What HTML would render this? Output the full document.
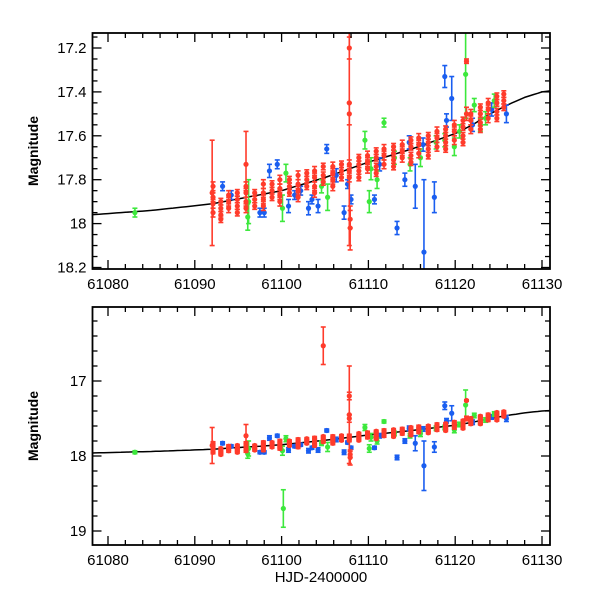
<!DOCTYPE html>
<html><head><meta charset="utf-8"><style>
body{margin:0;background:#fff}
text{font-family:"Liberation Sans",sans-serif;fill:#000}
</style></head><body>
<svg id="c" width="600" height="600" xmlns="http://www.w3.org/2000/svg"></svg>
<script>
// curve knots (model)
const curveT=[61076,61078,61085,61092,61096,61100,61105,61110,61115,61120,61122,61124,61126,61128,61130,61133];
const curveM=[17.965,17.96,17.94,17.91,17.88,17.85,17.79,17.72,17.66,17.59,17.55,17.50,17.46,17.425,17.40,17.385];
// red nights: time, mags, error
const redT=[61092.1,61093.0,61093.9,61094.9,61095.9,61096.9,61097.9,61098.9,61099.8,61100.9,61101.9,61102.9,61103.8,61104.8,61105.9,61106.9,61107.8,61108.9,61109.9,61110.9,61111.8,61112.9,61113.9,61114.9,61115.8,61116.9,61117.9,61118.9,61119.9,61120.9,61121.8,61122.9,61123.8,61124.8,61125.6];
const redM=[[17.83,17.88,17.91,17.95],[17.90,17.93,17.96,17.98],[17.87,17.90,17.93],[17.86,17.89,17.92,17.95],[17.83,17.86,17.90,17.93],[17.86,17.89,17.92],[17.82,17.86,17.89,17.92],[17.82,17.85,17.88],[17.80,17.84,17.87,17.90],[17.80,17.83,17.86],[17.78,17.82,17.85,17.88],[17.77,17.80,17.83],[17.76,17.79,17.83,17.86],[17.74,17.78,17.81],[17.74,17.77,17.80,17.83],[17.73,17.76,17.79],[17.73,17.76,17.79],[17.70,17.73,17.76,17.79],[17.69,17.72,17.75],[17.67,17.70,17.74,17.77],[17.66,17.69,17.73],[17.65,17.68,17.71,17.74],[17.64,17.67,17.70],[17.62,17.65,17.69,17.72],[17.61,17.64,17.68],[17.60,17.63,17.66,17.69],[17.58,17.61,17.65],[17.57,17.60,17.63,17.66],[17.55,17.58,17.62],[17.53,17.56,17.60,17.63],[17.50,17.53,17.57],[17.47,17.50,17.54,17.57],[17.45,17.48,17.52],[17.42,17.45,17.49,17.52],[17.41,17.44,17.47]];
const redE=[0.02,0.015,0.02,0.015,0.02,0.015,0.02,0.015,0.02,0.015,0.02,0.015,0.02,0.015,0.02,0.015,0.02,0.015,0.02,0.015,0.02,0.015,0.02,0.015,0.02,0.015,0.02,0.015,0.02,0.015,0.02,0.015,0.02,0.015,0.015];
// red singles (outliers)
const redXT=[61092.0,61095.9,61104.8,61107.8,61107.8,61107.8,61107.9,61107.9,61121.3,61121.3];
const redXM=[17.86,17.73,16.53,17.45,17.50,17.20,17.98,18.02,17.26,17.50];
const redXE=[0.24,0.15,0.25,0.65,0.05,0.05,0.04,0.10,0.01,0.03];
// green
const greenT=[61083.1,61096.2,61096.1,61100.1,61100.2,61100.5,61104.6,61105.3,61109.6,61110.3,61110.1,61111.8,61111.0,61113.0,61114.8,61116.0,61117.8,61118.8,61119.9,61120.5,61121.2,61122.2,61122.9,61123.5,61124.5];
const greenM=[17.95,17.90,17.97,17.93,18.70,17.77,17.83,17.88,17.62,17.75,17.90,17.54,17.80,17.70,17.73,17.70,17.63,17.62,17.65,17.58,17.32,17.46,17.55,17.52,17.44];
const greenE=[0.02,0.10,0.06,0.06,0.25,0.04,0.03,0.06,0.04,0.05,0.05,0.02,0.04,0.03,0.03,0.04,0.03,0.03,0.04,0.03,0.20,0.03,0.03,0.03,0.03];
// blue
const blueT=[61093.2,61094.2,61097.5,61098.0,61098.6,61099.5,61100.8,61101.5,61102.2,61103.1,61103.5,61104.2,61105.2,61106.3,61107.2,61107.6,61108.0,61110.7,61111.3,61113.3,61114.2,61114.7,61115.4,61116.3,61116.4,61117.6,61118.8,61119.0,61119.6,61122.0,61124.2,61125.9];
const blueM=[17.83,17.87,17.95,17.95,17.76,17.73,17.92,17.87,17.85,17.93,17.89,17.92,17.66,17.78,17.95,17.82,17.89,17.89,17.73,18.02,17.80,17.63,17.83,17.64,18.13,17.88,17.33,17.53,17.43,17.55,17.48,17.50];
const blueE=[0.02,0.02,0.02,0.02,0.03,0.02,0.03,0.02,0.02,0.03,0.02,0.03,0.02,0.03,0.03,0.02,0.02,0.02,0.03,0.03,0.03,0.03,0.10,0.03,0.33,0.07,0.05,0.03,0.10,0.03,0.03,0.04];

const NS="http://www.w3.org/2000/svg";
const svg=document.getElementById('c');
function mk(tag,attrs,parent){const e=document.createElementNS(NS,tag);for(const k in attrs)e.setAttribute(k,attrs[k]);(parent||svg).appendChild(e);return e;}
const xAt=t=>108+(t-61080)*8.68;
const panels=[
 {name:'top',top:33,bot:269,y:m=>48+(m-17.2)*219.5,major:[17.2,17.4,17.6,17.8,18,18.2],minStep:0.05,minFrom:17.15,minTo:18.2},
 {name:'bottom',top:307,bot:545,y:m=>381+(m-17)*75,major:[17,18,19],minStep:0.2,minFrom:16.2,minTo:19.2}
];
const L=92.5,R=550;
panels.forEach((p,pi)=>{
 const g=mk('g',{});
 
 
 const cid='clip'+pi;
 const cp=mk('clipPath',{id:cid},g);mk('rect',{x:L,y:p.top,width:R-L,height:p.bot-p.top},cp);
 const plot=mk('g',{'clip-path':'url(#'+cid+')'},g);
 let d='';for(let t=61076;t<=61133;t+=0.5){let i=0;while(i<curveT.length-2&&curveT[i+1]<t)i++;const f=(t-curveT[i])/(curveT[i+1]-curveT[i]);const m=curveM[i]+f*(curveM[i+1]-curveM[i]);d+=(d?'L':'M')+xAt(t).toFixed(1)+','+p.y(m).toFixed(1);}
 const cv=mk('path',{d:d,fill:'none',stroke:'#000','stroke-width':1.5,'stroke-linejoin':'round'},plot);
 
 
 function pt(t,m,e,col,nm){
  const x=xAt(t),y=p.y(m),y1=p.y(m-e),y2=p.y(m+e);
  const gg=mk('g',{stroke:col,fill:col,'stroke-width':1.6},plot);
  
  
  mk('line',{x1:x,y1:y1,x2:x,y2:y2},gg);
  mk('line',{x1:x-2.5,y1:y1,x2:x+2.5,y2:y1},gg);
  mk('line',{x1:x-2.5,y1:y2,x2:x+2.5,y2:y2},gg);
  mk('circle',{cx:x,cy:y,r:2.6,stroke:'none'},gg);
 }
 const RED='#ff3b2b',GREEN='#3ce83c',BLUE='#1a5ef0';
 blueT.forEach((t,i)=>pt(t,blueM[i],blueE[i],BLUE,'blue-point'));
 greenT.forEach((t,i)=>pt(t,greenM[i],greenE[i],GREEN,'green-point'));
 redT.forEach((t,i)=>redM[i].forEach(m=>pt(t,m,redE[i],RED,'red-point')));
 redXT.forEach((t,i)=>pt(t,redXM[i],redXE[i],RED,'red-point'));
 const fr=mk('rect',{x:L,y:p.top,width:R-L,height:p.bot-p.top,fill:'none',stroke:'#000','stroke-width':1.8},g);
 
 
 for(let t=61080;t<=61130;t+=2){const x=xAt(t),maj=t%10===0,len=maj?9:5;
  mk('line',{x1:x,y1:p.bot,x2:x,y2:p.bot-len,stroke:'#000','stroke-width':1.3},g);
  mk('line',{x1:x,y1:p.top,x2:x,y2:p.top+len,stroke:'#000','stroke-width':1.3},g);
  if(maj){const tx=mk('text',{x:x,y:p.bot+20,'text-anchor':'middle','font-size':15},g);tx.textContent=t;
   
   }
 }
 for(let m=p.minFrom;m<=p.minTo+1e-6;m+=p.minStep){const y=p.y(m);if(y<p.top||y>p.bot+0.5)continue;
  const maj=p.major.some(v=>Math.abs(v-m)<1e-4),len=maj?9:5;
  mk('line',{x1:L,y1:y,x2:L+len,y2:y,stroke:'#000','stroke-width':1.3},g);
  mk('line',{x1:R,y1:y,x2:R-len,y2:y,stroke:'#000','stroke-width':1.3},g);}
 p.major.forEach(m=>{const tx=mk('text',{x:L-6,y:p.y(m)+5,'text-anchor':'end','font-size':15},g);tx.textContent=String(+m.toFixed(1));
  
  });
 const yl=mk('text',{x:0,y:0,'text-anchor':'middle','font-size':14,'font-weight':'bold',transform:`translate(38,${(p.top+p.bot)/2}) rotate(-90)`},g);
 yl.textContent='Magnitude';
 
 
});
const xl=mk('text',{x:321,y:582,'text-anchor':'middle','font-size':15});
xl.textContent='HJD-2400000';


</script>
</body></html>
